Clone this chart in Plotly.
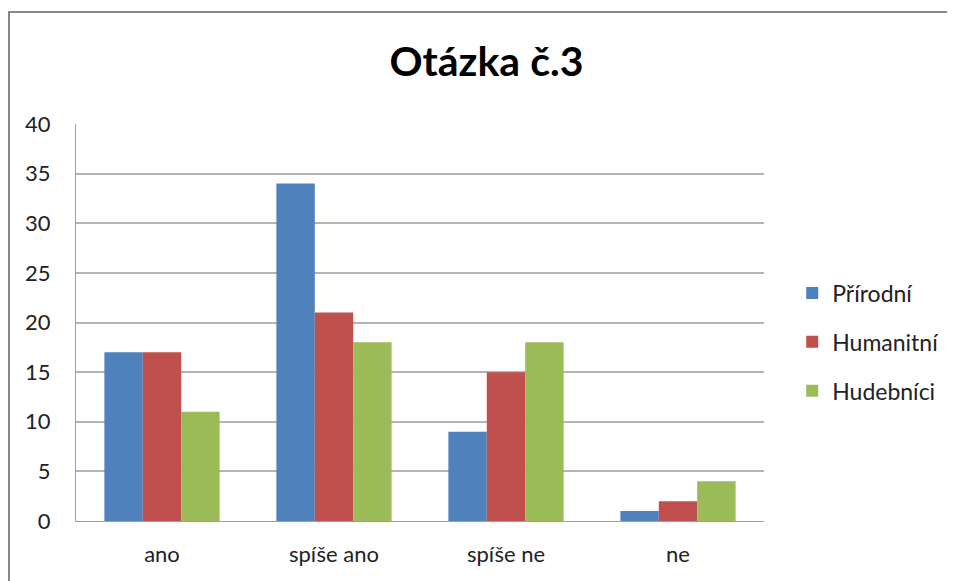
import plotly.graph_objects as go

categories = ['ano', 'spíše ano', 'spíše ne', 'ne']
prirodni = [17, 34, 9, 1]
humanitni = [17, 21, 15, 2]
hudebnici = [11, 18, 18, 4]

series = [
    ('Přírodní', prirodni, '#4F81BD'),
    ('Humanitní', humanitni, '#C0504D'),
    ('Hudebníci', hudebnici, '#9BBB59'),
]

font_family = 'Lato, Open Sans, sans-serif'

fig = go.Figure()
for name, vals, color in series:
    fig.add_trace(go.Bar(x=categories, y=vals, name=name, legendgroup=name,
                         marker=dict(color=color, line=dict(width=0))))

# frame around the whole chart
fig.add_shape(type='rect', xref='paper', yref='paper',
              x0=-0.0974, x1=1.4, y0=-0.4, y1=1.282,
              line=dict(color='#868686', width=2))

fig.update_layout(
    width=955, height=581,
    margin=dict(l=68, r=199, t=116, b=68),
    paper_bgcolor='white', plot_bgcolor='white',
    font=dict(family=font_family, size=22, color='#222'),
    title=dict(text='<b>Otázka č.3</b>', x=0.501, xanchor='center',
               y=0.907, yanchor='middle',
               font=dict(size=41, color='black', family=font_family)),
    barmode='group', bargap=0.33, bargroupgap=0,
    showlegend=True,
    legend=dict(x=1.041, y=0.451, xanchor='left', yanchor='middle',
                font=dict(size=23, color='#222'), tracegroupgap=16,
                itemwidth=30, bgcolor='rgba(0,0,0,0)'),
    xaxis=dict(showgrid=False, showline=True, linecolor='#a0a0a0', linewidth=1,
               ticks='', ticklabelstandoff=14, tickfont=dict(size=22)),
    yaxis=dict(range=[0, 40], dtick=5, showgrid=True, gridcolor='#b4b4b4',
               gridwidth=1.5, showline=True, linecolor='#a0a0a0', linewidth=1,
               zeroline=False, ticks='', ticklabelstandoff=20,
               tickfont=dict(size=22)),
)

fig.write_html('out.html')
